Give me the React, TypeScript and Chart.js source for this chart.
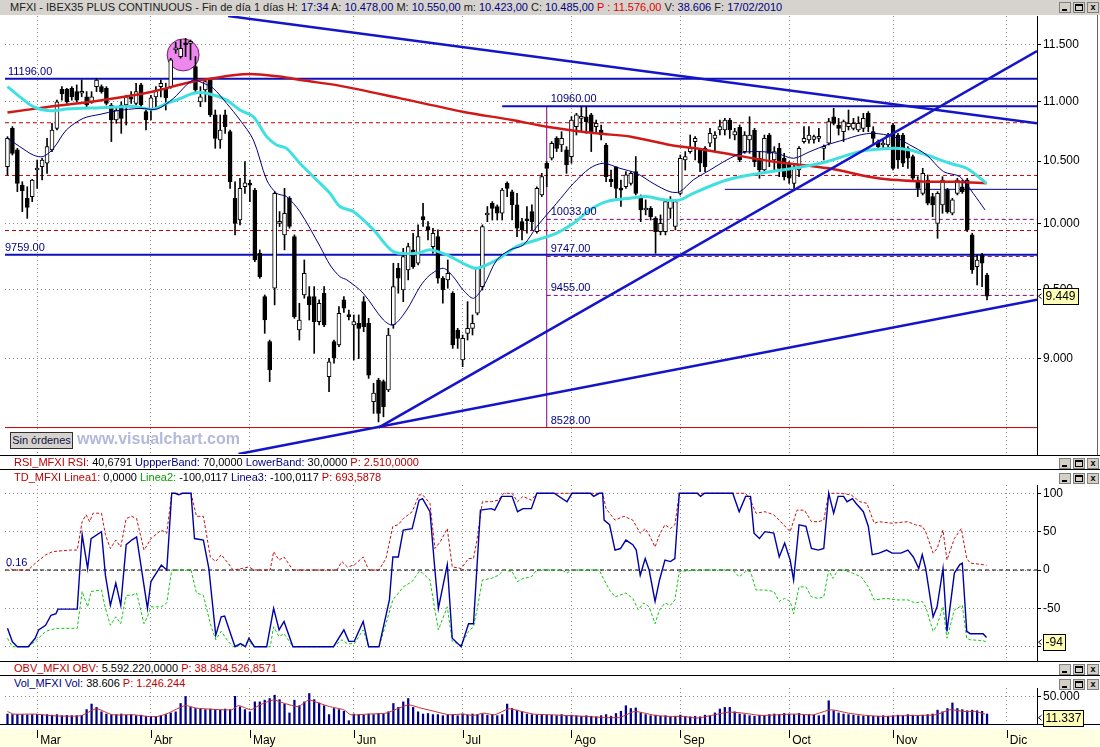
import React, { useEffect, useRef } from "react";
import { Chart, registerables } from "chart.js";

Chart.register(...registerables);

const FONT = "'Liberation Sans', Arial, Helvetica, sans-serif";
const NAVY = "#000080";
const RED = "#C00000";
const GREEN = "#00A000";
const BLACK = "#000000";

// ---------------- daily candles (index 0 = first session shown) ----------------
const OPEN = [
  10454,10772,10592,10305,10200,10213,10427,10454,10482,10592,
  10772,11105,11105,11114,11085,11071,11040,10997,11128,11128,
  11114,10970,10842,10970,10970,11031,10984,11143,10913,10936,
  11040,11128,11114,11128,11452,11392,11511,11511,11304,10997,
  11099,11186,10885,10675,10885,10744,10200,10028,10292,10319,
  10265,9771,9446,9120,9508,10002,9912,10200,9899,9203,
  9458,9446,9446,9263,9471,8874,9120,9096,9422,9312,
  9239,9251,9409,9251,8703,8851,8840,8782,9239,9657,
  9495,9644,9797,9695,10054,9977,9822,9899,9582,9570,
  9471,9203,8990,9179,9215,9324,9520,10067,10160,10134,
  10081,10319,10252,10147,10015,10033,10094,9938,10226,10482,
  10523,10688,10633,10592,10537,10786,10856,10870,10885,10786,
  10758,10633,10351,10454,10279,10292,10319,10414,10213,10107,
  10120,10041,9938,9938,10120,9977,10239,10509,10578,10661,
  10592,10605,10647,10688,10758,10758,10842,10716,10780,10578,
  10675,10758,10523,10427,10716,10509,10605,10523,10482,10319,
  10427,10661,10675,10680,10688,10605,10647,10870,10800,10744,
  10786,10772,10758,10772,10899,10744,10661,10633,10633,10800,
  10716,10716,10605,10537,10346,10239,10346,10213,10002,10147,
  10265,10081,10239,10292,10346,9912,9669,9758,9607,
];
const HIGH = [
  10702,10786,10605,10332,10292,10351,10509,10523,10688,10814,
  11011,11128,11114,11128,11143,11186,11085,11085,11201,11143,
  11128,10984,10941,10997,11054,11085,11158,11158,10927,11054,
  11128,11186,11158,11378,11519,11541,11556,11541,11392,11128,
  11186,11201,10927,10885,10927,10758,10332,10360,10495,10346,
  10279,9797,9458,9131,10252,10094,10279,10213,9912,9397,
  9720,9520,9520,9422,9520,9002,9131,9373,9446,9348,
  9312,9312,9446,9287,8828,8862,8851,9215,9695,9695,
  9809,9848,9925,9990,10160,10015,9964,9951,9594,9720,
  9483,9215,9167,9409,9312,9657,9990,10134,10173,10147,
  10279,10332,10265,10239,10041,10134,10147,10292,10400,10495,
  10661,10702,10744,10619,10870,10899,10956,10956,10899,10842,
  10800,10647,10427,10454,10346,10414,10414,10537,10226,10187,
  10134,10054,10068,10187,10213,10187,10550,10578,10716,10702,
  10605,10619,10772,10744,10842,10856,10856,10772,10800,10744,
  10870,10772,10578,10716,10730,10619,10647,10564,10495,10482,
  10619,10786,10786,10716,10772,10633,10856,10941,10856,10842,
  10927,10856,10870,10899,10913,10786,10675,10675,10730,10814,
  10730,10730,10619,10550,10373,10441,10387,10239,10252,10373,
  10279,10200,10360,10346,10360,9925,9758,9771,9619,
];
const LOW = [
  10387,10550,10252,10094,10041,10173,10279,10346,10400,10578,
  10758,11011,10984,11011,10997,11040,10950,10984,11085,11071,
  10970,10661,10814,10730,10800,10984,10970,10956,10758,10842,
  10941,11040,10927,11114,11422,11378,11392,11363,11085,10956,
  10997,10870,10605,10605,10730,10279,9912,9990,10239,10173,
  9707,9582,9179,8840,9385,9977,9797,9964,9287,9131,
  9434,9275,9037,9239,9227,8771,8967,9084,9330,9275,
  8990,9000,9191,8862,8623,8566,8600,8771,9215,9471,
  9409,9570,9657,9682,9977,9873,9771,9545,9397,9508,
  9072,9072,8943,9131,9167,9312,9495,10015,10028,10028,
  10028,10213,10028,9899,9873,9925,9951,9925,10213,10292,
  10509,10578,10578,10400,10482,10716,10744,10730,10578,10744,
  10675,10332,10292,10200,10134,10279,10305,10226,10015,10068,
  10028,9771,9912,9912,10041,9951,10226,10427,10564,10509,
  10414,10414,10619,10578,10716,10716,10688,10675,10495,10564,
  10564,10454,10360,10414,10454,10427,10373,10346,10319,10279,
  10373,10647,10647,10647,10661,10509,10633,10800,10716,10661,
  10758,10758,10744,10744,10744,10633,10605,10605,10619,10427,
  10441,10454,10441,10346,10213,10226,10147,10054,9886,10081,
  10081,10068,10226,10239,9938,9619,9532,9520,9422,
];
const CLOSE = [
  10688,10564,10319,10260,10128,10346,10441,10509,10619,10758,
  10997,11065,10997,11040,11011,11085,10970,11040,11186,11085,
  10984,10842,10927,10856,11040,11020,11085,10970,10842,11031,
  11099,11158,11031,11363,11467,11467,11497,11526,11099,11040,
  11172,10885,10688,10758,10786,10332,10002,10279,10324,10305,
  9720,9594,9275,8920,10239,10015,10081,9977,9299,9275,
  9619,9385,9263,9397,9239,8978,9002,9324,9361,9299,
  9263,9215,9227,8885,8760,8623,8668,9167,9520,9582,
  9746,9822,9669,9899,10028,9951,9925,9582,9495,9619,
  9096,9143,9143,9215,9251,9657,9977,10081,10120,10081,
  10265,10279,10147,9964,9951,10022,10015,10279,10373,10441,
  10647,10605,10688,10468,10842,10885,10870,10828,10744,10814,
  10716,10373,10332,10279,10265,10387,10400,10239,10107,10120,
  10054,9938,10002,10173,10187,10173,10523,10537,10605,10688,
  10482,10454,10730,10716,10786,10842,10758,10744,10509,10716,
  10716,10495,10427,10688,10564,10578,10441,10373,10360,10454,
  10605,10688,10716,10702,10702,10619,10828,10814,10772,10828,
  10814,10814,10814,10856,10786,10688,10619,10647,10716,10441,
  10509,10482,10523,10360,10279,10400,10160,10147,10239,10346,
  10094,10187,10346,10252,9951,9644,9720,9695,9449,
];
const VOLUME = [
  18000,17000,17500,17000,16500,17000,17500,16500,17000,16000,
  17000,15000,15500,15000,15000,15500,26000,36000,30000,22000,
  18000,17000,17000,18000,16000,17000,15000,16000,14000,14000,
  13000,15000,17000,20000,22000,37000,50000,30000,28000,27000,
  26000,27000,26000,25000,27000,26000,50000,31000,26000,22000,
  40000,40000,43000,46000,52000,44000,36000,20000,43000,33000,
  40000,55000,44000,38000,33000,17000,28000,26000,23000,6000,
  18000,17000,16000,18000,17000,19000,18000,22000,37000,30000,
  40000,46000,30000,22000,18000,19000,17000,17000,15000,16000,
  17000,15000,18000,16000,18000,17000,18000,16000,17000,15000,
  17000,36000,28000,25000,22000,18000,17000,16000,17000,16000,
  16000,15000,17000,14000,16000,15000,14000,15000,14000,13000,
  15000,17000,14000,19000,23000,33000,28000,29000,20000,17000,
  15000,16000,14000,15000,13000,14000,16000,14000,13000,14000,
  13000,16000,15000,20000,27000,30000,30000,22000,18000,17000,
  15000,14000,16000,15000,17000,18000,17000,19000,18000,17000,
  19000,16000,17000,16000,15000,16000,42000,24000,20000,18000,
  17000,16000,15000,14000,15000,14000,14000,15000,14000,15000,
  16000,15000,17000,16000,15000,16000,17000,18000,25000,22000,
  28000,38000,28000,26000,24000,25000,24000,23000,18000,
];

// ---------------- moving averages: [session index, value] ----------------
const MA_RED = [
  [0,10906],[7,10946],[19,11011],[29,11082],[36,11158],[40,11190],[46,11230],[50,11237],
  [55,11216],[60,11181],[67,11137],[79,11031],[92,10913],[102,10842],[109,10786],[119,10730],
  [126,10702],[134,10633],[139,10605],[145,10564],[155,10495],[166,10441],[176,10360],
  [186,10332],[192,10332],[197.9,10319],
];
const MA_CYAN = [
  [0,11128],[2.5,11040],[5.2,10956],[8.6,10920],[11.9,10935],[18.7,10946],[25.4,10956],
  [29.5,10935],[32.2,10984],[34.9,11025],[37.6,11071],[40.3,11071],[44.3,11011],[47,10927],
  [49.7,10870],[52.4,10702],[54.4,10633],[56.4,10605],[59.1,10482],[63.2,10319],[65.2,10239],
  [67.2,10134],[69.9,10094],[74,9951],[78,9784],[82.7,9771],[85.4,9797],[88.8,9758],
  [92.1,9695],[94.8,9657],[98.9,9720],[102.9,9822],[107,9873],[111,9925],[114.4,10002],
  [117.7,10107],[121.1,10173],[125.8,10200],[129.2,10213],[132.6,10187],[135.9,10187],
  [138.6,10239],[145.4,10346],[152.1,10400],[158.9,10441],[165.6,10495],[172.3,10578],
  [179.1,10605],[182.4,10592],[185.8,10550],[190.5,10482],[193.9,10441],[197.9,10319],
];
const MA_NAVY = [
  [0,10688],[2.5,10619],[5.2,10550],[7.2,10537],[9.3,10605],[11.9,10758],[15.3,10856],
  [18.7,10890],[22.1,10920],[26.8,10941],[30.2,10935],[33.5,11025],[36.2,11143],[37.6,11186],
  [39.6,11158],[41.6,11114],[44.3,10984],[47,10842],[49.7,10675],[52.4,10346],[54.4,10239],
  [56.4,10213],[59.1,10094],[63.2,9822],[65.2,9682],[67.2,9594],[68.6,9570],[71.9,9471],
  [76,9275],[78,9239],[80.7,9348],[83.4,9520],[85.4,9607],[88.1,9657],[90.1,9594],[92.1,9495],
  [94.2,9434],[96.2,9520],[98.9,9720],[101.6,9797],[104.3,9835],[107,9977],[111,10160],
  [114.4,10319],[117.7,10441],[120.4,10482],[123.8,10441],[127.2,10400],[130.5,10319],
  [133.9,10252],[135.9,10252],[138.6,10346],[142,10427],[145.4,10509],[148.7,10570],
  [152.1,10578],[155.5,10564],[158.9,10523],[162.2,10578],[165.6,10633],[169,10675],
  [172.3,10716],[175,10730],[179.1,10702],[182.4,10633],[185.8,10550],[189.2,10414],
  [192.5,10373],[195.2,10239],[197.6,10107],
];

// ---------------- drawn studies on the price panel ----------------
const TREND_DOWN = [[44.6, 11759], [208.1, 10814]];
const TREND_UP_STEEP = [[75, 8528], [208.1, 11441]];
const TREND_UP_SHALLOW = [[46.7, 8354], [208.1, 9423]];
const BLUE_LEVELS = [11196, 9759];
const TOP_LEVEL = { value: 10960, from: 100 };
const THIN_LEVEL = { value: 10271, from: 145 };
const LOW_LEVEL = 8528;
const RED_DASHED_LEVELS = [10819, 10383, 9946];
const MARK_X = 109;
const PURPLE_LEVELS = [10033, 9747, 9455];
const HIGHLIGHT = [35.5, 11407];
const LAST_PRICE = 9449;

// ---------------- TD oscillator: [session index, value] ----------------
const TD_BLUE = [
  [0,-76],[1,-93.5],[2,-100],[4.2,-100],[5.6,-89],[6.3,-78],[7.7,-72],[8.8,-59],[9.8,-57],
  [10.2,-51],[14.1,-51],[15.1,46],[16.2,2],[16.9,41],[19,50],[19.8,-7],[20.8,-46],[21.9,-17],
  [22.9,-46],[24,33],[25.1,39],[26.1,43],[28.3,-50],[29,-15],[31.1,6.5],[32.2,0],[33.2,100],
  [33.9,100],[34.6,98],[35.4,100],[37.1,100],[37.8,41],[39.6,39],[40.7,2],[42.1,-85],
  [43.2,-61],[43.9,-60],[45.3,-87],[46,-100],[47.1,-96],[48.1,-100],[48.8,-89],[49.9,-100],
  [52.4,-100],[53.8,-50],[54.9,-78],[55.9,-67],[57.7,-100],[65.9,-100],[68,-78],[69,-93],
  [70.1,-93],[71.9,-67],[73,-100],[75.1,-100],[77.2,-39],[77.9,17],[79,17],[80,52],[81.8,54],
  [83.2,91],[83.9,93],[85.4,76],[86.4,0],[87.1,-50],[88.9,7],[89.9,-89],[91.7,-100],
  [93.2,-70],[94.2,-70],[95.6,78],[97.8,80],[98.5,78],[99.9,96],[102,96],[103.1,76],
  [104.2,80],[105.9,80],[107,100],[110.5,100],[113.1,89],[114.1,100],[117.8,100],[118.5,96],
  [119.6,100],[120.3,100],[120.6,65],[121.7,59],[122.8,26],[123.9,28],[125,39],[126.4,33],
  [127.1,26],[127.9,-7],[128.9,15],[129.7,0],[130.9,-41],[131.8,-13],[132.9,13],[134,11],
  [134.9,15],[135.8,100],[139.4,100],[140.1,96],[140.9,100],[146.6,100],[147.9,76],
  [149.2,96],[150.2,96],[150.9,48],[152,41],[153.1,50],[154.9,48],[156,17],[157.1,35],
  [158.2,13],[158.9,-13],[160,59],[161.4,57],[162.5,28],[163.9,26],[165,28],[166,100],
  [167,74],[167.9,96],[169,96],[169.7,89],[170.8,93],[171.5,87],[173,76],[174,57],[174.8,20],
  [176.2,22],[177.7,26],[178.8,22],[180.6,22],[182,26],[183.1,17],[184.2,2],[184.9,20],
  [185.6,2],[187.1,-61],[187.9,-48],[189.1,2],[189.9,-80],[191.4,-4],[192.5,7],[193,9],
  [193.9,-80],[194.6,-83],[197.2,-83],[197.9,-88],
];
const TD_RED = [
  [0,6.5],[1,0],[4.2,0],[5.6,8.7],[7.7,19.6],[9.1,24],[12.7,26],[14.1,26],[15.1,63],[15.9,72],
  [16.6,63],[17.3,74],[19,74],[19.8,46],[20.8,28],[21.9,39],[22.9,30],[24,67],[25.1,70],
  [26.1,67],[27.6,26],[28.3,33],[29,41],[31.1,52],[32.2,48],[33.2,100],[37.1,100],[38.2,70],
  [39.6,70],[41,17],[42.1,11],[43.2,20],[44.6,9],[45.6,0],[47.4,2],[48.8,4],[49.9,0],[53.1,0],
  [53.8,24],[54.9,13],[55.9,17],[57.7,0],[66.6,0],[67.6,11],[68.7,4],[70.1,6.5],[71.9,17],
  [73,0],[75.1,0],[76.5,15],[77.9,57],[79,59],[80,67],[81.8,76],[83.2,98],[83.9,98],[85.4,87],
  [86.4,28],[87.5,37],[88.9,54],[89.9,4],[91.7,2],[93.2,15],[94.2,15],[94.9,39],[96,89],
  [97.8,89],[99.2,91],[100.3,100],[102,100],[103.1,89],[104.2,96],[105.9,91],[107,100],
  [120.3,100],[121,80],[122.8,65],[124.6,70],[126.4,65],[127.9,48],[128.9,54],[129.7,46],
  [130.9,30],[131.8,46],[132.9,59],[134,54],[134.9,59],[135.8,100],[149.2,100],[150.2,91],
  [151.3,74],[153.1,76],[154.9,72],[156,65],[158.2,50],[159.6,78],[161.1,78],[162.5,63],
  [163.9,63],[165,65],[166,100],[168.3,100],[170.5,98],[172.3,89],[173.7,87],[175.2,61],
  [176.2,63],[178.8,61],[182,63],[183.5,59],[184.9,57],[185.6,50],[187.1,22],[187.9,28],
  [189.1,52],[189.9,13],[191.4,41],[192.8,54],[193.9,15],[194.6,9],[197.2,7],[197.9,6],
];
const TD_GREEN = [
  [0,-89],[1,-100],[4.2,-100],[5.6,-93],[7.7,-80],[9.8,-76],[14.1,-76],[15.1,-28],[16.2,-48],
  [16.9,-28],[19,-26],[19.8,-50],[20.8,-72],[21.9,-61],[22.9,-70],[24,-33],[25.1,-33],
  [26.1,-30],[27.6,-70],[28.3,-61],[29,-48],[31.1,-48],[32.2,-43],[33.2,0],[37.1,0],
  [38.2,-30],[39.6,-33],[41,-70],[42.1,-91],[43.2,-80],[44.6,-93],[45.6,-100],[47.4,-98],
  [48.8,-93],[49.9,-100],[53.1,-100],[53.8,-74],[54.9,-87],[55.9,-83],[57.7,-100],[65.9,-100],
  [67.6,-91],[68.7,-96],[70.1,-96],[71.9,-78],[73,-100],[75.1,-100],[76.5,-70],[77.9,-39],
  [80,-22],[81.8,-15],[83.2,-2],[83.9,-4],[85.4,-13],[86.4,-52],[87.1,-78],[88.9,-48],
  [89.9,-93],[91.7,-98],[93.2,-80],[94.2,-74],[94.9,-52],[96,-13],[97.8,-11],[99.2,-7],
  [100.3,0],[102,-2],[103.1,-15],[104.2,-11],[105.9,-9],[107,0],[112,0],[113.1,-4],[114.1,0],
  [119.6,0],[120.6,-13],[121.7,-26],[122.8,-35],[125,-30],[126.4,-37],[127.5,-52],[128.6,-43],
  [129.7,-48],[130.9,-70],[131.8,-52],[132.9,-43],[134,-46],[134.9,-39],[135.8,-2],[139.4,0],
  [146.6,0],[147.9,-9],[149.2,-2],[150.2,-2],[151.3,-26],[153.1,-26],[154.9,-28],[156,-41],
  [157.1,-37],[158.2,-41],[158.9,-57],[160,-22],[161.4,-22],[162.5,-35],[163.9,-37],[165,-35],
  [166,0],[166.8,-11],[167.9,0],[169,0],[170.8,-4],[172.6,-9],[174,-22],[175.2,-39],
  [177.7,-37],[179.8,-39],[182,-39],[183.5,-43],[184.9,-41],[185.6,-48],[187.1,-80],
  [187.9,-72],[189.1,-48],[189.9,-89],[191.4,-52],[192.5,-48],[193,-46],[193.9,-89],
  [194.6,-91],[197.2,-92],[197.9,-94],
];
const TD_TICKS = [100, 50, 0, -50, -100];
const TD_LAST = -94;
const TD_LEFT_LABEL = "0.16";

// ---------------- volume average ----------------
const VOL_MA = [
  [0,22600],[1.3,17850],[5.6,17850],[9.1,14900],[14.8,14900],[18,27400],[21.2,16700],
  [25.4,16700],[28.3,13700],[30.4,13700],[32.5,19600],[35.9,33300],[38.2,28600],[45.3,25600],
  [46.7,33300],[49.2,25600],[51,34500],[53.8,43400],[55.9,37500],[58.8,31500],[60.9,43400],
  [63,37500],[65.1,31500],[68,25600],[69.4,16700],[72.9,17900],[76.5,19600],[78.6,26800],
  [81.1,34500],[83.6,28600],[86.4,22600],[89.3,16700],[92.1,17900],[94.2,15500],[96.3,19600],
  [98.5,16700],[101.3,27400],[103.4,23800],[106.3,17900],[109.7,16700],[116.8,13700],
  [120.3,11900],[123.8,11900],[126.7,22600],[128.8,19600],[130.9,15500],[133.8,13700],
  [136.6,13700],[139.4,10700],[142.3,15500],[145.8,21400],[148.7,19600],[152.2,15500],
  [155.8,16700],[159.3,17900],[162.9,16700],[166.4,25600],[170,19600],[173.5,15500],
  [177,13700],[180.6,14900],[184.1,15500],[187.7,16700],[190.5,25600],[193.3,22600],
  [195.5,22600],[197.6,17900],
];
const VOL_TICKS = [50000];
const VOL_TAG = 11337;

// ---------------- time axis ----------------
const MONTH_TICKS = [6, 29, 49, 70, 92, 114, 136, 158, 179, 202];
const MONTH_LABELS = ["Mar", "Abr", "May", "Jun", "Jul", "Ago", "Sep", "Oct", "Nov", "Dic"];
const PRICE_TICKS = [9000, 9500, 10000, 10500, 11000, 11500];
const X_MIN = -0.5;
const X_MAX = 208.1;
const PRICE_MIN = 8354;
const PRICE_MAX = 11759;

// ---------------- header texts ----------------
const TITLE_PARTS: [string, string][] = [
  ["MFXI - IBEX35 PLUS CONTINUOUS - Fin de día 1 días H: ", "#202020"],
  ["17:34", NAVY], [" A: ", "#202020"], ["10.478,00", NAVY], [" M: ", "#202020"],
  ["10.550,00", NAVY], [" m: ", "#202020"], ["10.423,00", NAVY], [" C: ", "#202020"],
  ["10.485,00", NAVY], [" P : 11.576,00", "#E00000"], [" V: ", "#202020"], ["38.606", NAVY],
  [" F: ", "#202020"], ["17/02/2010", NAVY],
];
const RSI_PARTS: [string, string][] = [
  ["RSI_MFXI RSI: ", RED], ["40,6791", BLACK], [" UppperBand: ", NAVY], ["70,0000", BLACK],
  [" LowerBand: ", NAVY], ["30,0000", BLACK], [" P: 2.510,0000", RED],
];
const TD_PARTS: [string, string][] = [
  ["TD_MFXI Linea1: ", RED], ["0,0000", BLACK], [" Linea2: ", GREEN], ["-100,0117", BLACK],
  [" Linea3: ", NAVY], ["-100,0117", BLACK], [" P: 693,5878", RED],
];
const OBV_PARTS: [string, string][] = [
  ["OBV_MFXI OBV: ", RED], ["5.592.220,0000", BLACK], [" P: 38.884.526,8571", RED],
];
const VOL_PARTS: [string, string][] = [
  ["Vol_MFXI Vol: ", NAVY], ["38.606", BLACK], [" P: 1.246.244", RED],
];

// ---------------- helpers ----------------
const pts = (arr: number[][]) => arr.map(([x, y]) => ({ x, y }));
const thousands = (v: number) => {
  const neg = v < 0;
  const s = Math.round(Math.abs(v)).toString().replace(/\B(?=(\d{3})+(?!\d))/g, ".");
  return (neg ? "-" : "") + s;
};

function xScale(showLabels: boolean) {
  return {
    type: "linear",
    min: X_MIN,
    max: X_MAX,
    offset: false,
    afterBuildTicks: (s: any) => {
      s.ticks = MONTH_TICKS.map((v) => ({ value: v }));
    },
    afterFit: (s: any) => {
      s.height = showLabels ? 23 : 0;
      s.paddingLeft = 0;
      s.paddingRight = 0;
      s.paddingTop = 0;
      s.paddingBottom = 0;
    },
    grid: { color: "#8c8c8c", lineWidth: 1, offset: false, drawTicks: false, borderDash: [1, 3] },
    border: { display: false, dash: [1, 3] },
    ticks: {
      display: showLabels,
      autoSkip: false,
      maxRotation: 0,
      minRotation: 0,
      align: "start",
      labelOffset: 3,
      padding: 9,
      color: "#000",
      font: { family: FONT, size: 12 },
      callback: (v: any) => {
        const i = MONTH_TICKS.indexOf(v);
        return i >= 0 ? MONTH_LABELS[i] : "";
      },
    },
  };
}

function yRight(extra: any, ticks: number[], label: (v: number) => string) {
  return {
    position: "right",
    ...extra,
    afterBuildTicks: (s: any) => {
      s.ticks = ticks.map((v) => ({ value: v }));
    },
    afterFit: (s: any) => {
      s.width = 63;
      s.paddingTop = 0;
      s.paddingBottom = 0;
    },
    grid: {
      color: "#8c8c8c",
      lineWidth: 1,
      drawTicks: true,
      tickLength: 4,
      tickColor: "#000",
      tickBorderDash: [],
      borderDash: [1, 3],
    },
    border: { display: true, color: "#000", width: 1, dash: [1, 3] },
    ticks: {
      color: "#000",
      padding: 2,
      font: { family: FONT, size: 12 },
      autoSkip: false,
      callback: (v: any) => label(Number(v)),
    },
  };
}

function drawTag(ctx: CanvasRenderingContext2D, x: number, yPx: number, text: string) {
  ctx.save();
  ctx.font = `12px ${FONT}`;
  const w = Math.ceil(ctx.measureText(text).width) + 4;
  const h = 16;
  const top = Math.round(yPx - h / 2);
  ctx.fillStyle = "#FFFFB8";
  ctx.fillRect(x, top, w, h);
  ctx.strokeStyle = "#000";
  ctx.lineWidth = 1;
  ctx.strokeRect(x + 0.5, top + 0.5, w, h);
  ctx.fillStyle = "#000";
  ctx.textBaseline = "middle";
  ctx.textAlign = "left";
  ctx.fillText(text, x + 2.5, top + h / 2 + 1);
  ctx.beginPath();
  ctx.moveTo(x - 1.5, yPx - 2.5);
  ctx.lineTo(x - 4.5, yPx);
  ctx.lineTo(x - 1.5, yPx + 2.5);
  ctx.stroke();
  ctx.restore();
}

const lineDs = (data: any[], color: string, width: number, order: number, extra: any = {}) => ({
  type: "line",
  data,
  borderColor: color,
  borderWidth: width,
  pointRadius: 0,
  fill: false,
  tension: 0,
  order,
  ...extra,
});

const WinButtons = ({ top }: { top: number }) => (
  <div style={{ position: "absolute", top, left: 1059, display: "flex", gap: 2 }}>
    <div style={{ width: 10, height: 9, position: "relative", background: "#d4d0c8", border: "1px solid #808080" }}>
      <div style={{ position: "absolute", left: 2, bottom: 1, width: 5, height: 2, background: "#000" }} />
    </div>
    <div style={{ width: 10, height: 9, position: "relative", background: "#d4d0c8", border: "1px solid #808080" }}>
      <div style={{ position: "absolute", left: 1, top: 1, width: 6, height: 4, border: "1px solid #000", borderTopWidth: 2 }} />
    </div>
    <div
      style={{
        width: 10, height: 9, background: "#d4d0c8", border: "1px solid #808080",
        fontSize: 9, lineHeight: "9px", textAlign: "center", fontWeight: "bold", fontFamily: FONT,
      }}
    >
      x
    </div>
  </div>
);

const Header = ({ parts, top, left = 14 }: { parts: [string, string][]; top: number; left?: number }) => (
  <div
    style={{
      position: "absolute", top, left, fontFamily: FONT, fontSize: 11, lineHeight: "13px",
      whiteSpace: "pre",
    }}
  >
    {parts.map(([t, c], i) => (
      <span key={i} style={{ color: c }}>
        {t}
      </span>
    ))}
  </div>
);

const HLine = ({ top }: { top: number }) => (
  <div style={{ position: "absolute", top, left: 0, width: 1100, height: 1, background: "#000" }} />
);

const baseOptions = (bottomPad: number) => ({
  responsive: false,
  animation: false,
  events: [],
  layout: { autoPadding: false, padding: { left: 5, right: 0, top: 0, bottom: bottomPad } },
  plugins: { legend: { display: false }, tooltip: { enabled: false } },
});

export default function App() {
  const mainRef = useRef<HTMLCanvasElement>(null);
  const tdRef = useRef<HTMLCanvasElement>(null);
  const volRef = useRef<HTMLCanvasElement>(null);

  useEffect(() => {
    const charts: Chart[] = [];

    // ---------------- price panel ----------------
    const wicks = OPEN.map((_, i) => ({ x: i, y: [LOW[i], HIGH[i]] }));
    const bodies = OPEN.map((o, i) => ({ x: i, y: [Math.min(o, CLOSE[i]), Math.max(o, CLOSE[i])] }));
    const bodyColors = OPEN.map((o, i) => (CLOSE[i] >= o ? "#ffffff" : "#000000"));

    const datasets: any[] = [];
    datasets.push({
      type: "line",
      data: [{ x: HIGHLIGHT[0], y: HIGHLIGHT[1] }],
      showLine: false,
      pointRadius: 16,
      pointBackgroundColor: "#EE88EE",
      pointBorderColor: "#6a206a",
      pointBorderWidth: 1,
      order: 100,
    });
    RED_DASHED_LEVELS.forEach((v) =>
      datasets.push(lineDs([{ x: X_MIN, y: v }, { x: X_MAX, y: v }], "#C00000", 1, 90, { borderDash: [4, 3] }))
    );
    PURPLE_LEVELS.forEach((v) =>
      datasets.push(lineDs([{ x: MARK_X, y: v }, { x: X_MAX, y: v }], "#800080", 1, 90, { borderDash: [4, 3] }))
    );
    datasets.push(lineDs([{ x: X_MIN, y: LOW_LEVEL }, { x: X_MAX, y: LOW_LEVEL }], "#C00000", 1, 90));
    datasets.push(lineDs([{ x: MARK_X, y: LOW_LEVEL }, { x: MARK_X, y: TOP_LEVEL.value }], "#800080", 1, 90));
    datasets.push(
      lineDs([{ x: THIN_LEVEL.from, y: THIN_LEVEL.value }, { x: X_MAX, y: THIN_LEVEL.value }], "#000080", 1, 88)
    );
    BLUE_LEVELS.forEach((v) =>
      datasets.push(lineDs([{ x: X_MIN, y: v }, { x: X_MAX, y: v }], "#1010B8", 2, 85))
    );
    datasets.push(
      lineDs([{ x: TOP_LEVEL.from, y: TOP_LEVEL.value }, { x: X_MAX, y: TOP_LEVEL.value }], "#1010B8", 2, 85)
    );
    datasets.push({
      type: "bar", data: wicks, backgroundColor: "#000", borderWidth: 0, barThickness: 1,
      grouped: false, order: 50,
    });
    datasets.push({
      type: "bar", data: bodies, backgroundColor: bodyColors, borderColor: "#000", borderWidth: 1,
      borderSkipped: false, barThickness: 4, minBarLength: 2, grouped: false, order: 49,
    });
    datasets.push(lineDs(pts(MA_RED), "#D01818", 2.5, 32, { tension: 0.3 }));
    datasets.push(lineDs(pts(MA_CYAN), "#40E0E0", 3, 31, { tension: 0.3 }));
    datasets.push(lineDs(pts(MA_NAVY), "#000080", 1, 30, { tension: 0.3 }));
    [TREND_DOWN, TREND_UP_STEEP, TREND_UP_SHALLOW].forEach((t) =>
      datasets.push(lineDs(pts(t), "#1414C8", 2.5, 20))
    );

    const levelTags = [
      { value: BLUE_LEVELS[0], at: "left", dx: 3 },
      { value: BLUE_LEVELS[1], at: "left", dx: 0 },
      { value: TOP_LEVEL.value, at: "mark", dx: 4 },
      ...PURPLE_LEVELS.map((v) => ({ value: v, at: "mark", dx: 4 })),
      { value: LOW_LEVEL, at: "mark", dx: 4 },
    ];

    const mainOverlay = {
      id: "mainOverlay",
      afterDatasetsDraw(chart: any) {
        const { ctx, chartArea: a, scales } = chart;
        ctx.save();
        ctx.font = `11px ${FONT}`;
        ctx.fillStyle = NAVY;
        ctx.textBaseline = "alphabetic";
        ctx.textAlign = "left";
        levelTags.forEach((t) => {
          const px = t.at === "left" ? a.left + t.dx : scales.x.getPixelForValue(MARK_X) + t.dx;
          ctx.fillText(t.value.toFixed(2), px, scales.y.getPixelForValue(t.value) - 4);
        });
        ctx.restore();
      },
      afterDraw(chart: any) {
        const { ctx, chartArea: a, scales } = chart;
        drawTag(ctx, a.right + 6, scales.y.getPixelForValue(LAST_PRICE), thousands(LAST_PRICE));
      },
    };

    charts.push(
      new Chart(mainRef.current as HTMLCanvasElement, {
        type: "bar",
        data: { datasets },
        options: {
          ...baseOptions(1),
          scales: {
            x: xScale(false) as any,
            y: yRight({ type: "logarithmic", min: PRICE_MIN, max: PRICE_MAX }, PRICE_TICKS, thousands) as any,
          },
        },
        plugins: [mainOverlay],
      } as any)
    );

    // ---------------- TD oscillator panel ----------------
    const tdOverlay = {
      id: "tdOverlay",
      afterDatasetsDraw(chart: any) {
        const { ctx, chartArea: a, scales } = chart;
        ctx.save();
        ctx.font = `11px ${FONT}`;
        ctx.fillStyle = NAVY;
        ctx.textAlign = "left";
        ctx.textBaseline = "alphabetic";
        ctx.fillText(TD_LEFT_LABEL, a.left + 1, scales.y.getPixelForValue(0) - 4);
        ctx.restore();
      },
      afterDraw(chart: any) {
        const { ctx, chartArea: a, scales } = chart;
        drawTag(ctx, a.right + 6, scales.y.getPixelForValue(TD_LAST), String(TD_LAST));
      },
    };
    charts.push(
      new Chart(tdRef.current as HTMLCanvasElement, {
        type: "line",
        data: {
          datasets: [
            lineDs(pts(TD_BLUE), "#0000A8", 1.4, 1),
            lineDs(pts(TD_RED), "#C81010", 1, 2, { borderDash: [3, 2] }),
            lineDs(pts(TD_GREEN), "#10C810", 1, 3, { borderDash: [3, 2] }),
            lineDs([{ x: X_MIN, y: 0 }, { x: X_MAX, y: 0 }], "#000", 1, 4, { borderDash: [4, 3] }),
          ],
        },
        options: {
          ...baseOptions(1),
          scales: {
            x: xScale(false) as any,
            y: yRight({ type: "linear", min: -117.3, max: 110.8 }, TD_TICKS, (v) =>
              v === -100 ? "" : String(v)
            ) as any,
          },
        },
        plugins: [tdOverlay],
      } as any)
    );

    // ---------------- volume panel + time axis ----------------
    const volOverlay = {
      id: "volOverlay",
      beforeDraw(chart: any) {
        const { ctx, chartArea: a, width, height } = chart;
        ctx.save();
        ctx.fillStyle = "#FFFFE1";
        ctx.fillRect(0, a.bottom + 5, width, height - a.bottom - 5);
        ctx.restore();
      },
      afterDraw(chart: any) {
        const { ctx, chartArea: a, scales, width } = chart;
        ctx.save();
        ctx.strokeStyle = "#000";
        ctx.lineWidth = 1;
        ctx.beginPath();
        ctx.moveTo(0, a.bottom + 0.5);
        ctx.lineTo(width, a.bottom + 0.5);
        MONTH_TICKS.forEach((v) => {
          const px = Math.round(scales.x.getPixelForValue(v)) + 0.5;
          ctx.moveTo(px, a.bottom + 6);
          ctx.lineTo(px, a.bottom + 14);
        });
        ctx.stroke();
        ctx.restore();
        drawTag(ctx, a.right + 6, scales.y.getPixelForValue(VOL_TAG), thousands(VOL_TAG));
      },
    };
    charts.push(
      new Chart(volRef.current as HTMLCanvasElement, {
        type: "bar",
        data: {
          datasets: [
            {
              type: "bar",
              data: VOLUME.map((v, i) => ({ x: i, y: v })),
              backgroundColor: "#00008B",
              barThickness: 1.6,
              grouped: false,
              order: 2,
            },
            lineDs(pts(VOL_MA), "#C83030", 1, 1, { tension: 0.2 }),
          ],
        },
        options: {
          ...baseOptions(0),
          scales: {
            x: xScale(true) as any,
            y: yRight({ type: "linear", min: 0, max: 65000 }, VOL_TICKS, thousands) as any,
          },
        },
        plugins: [volOverlay],
      } as any)
    );

    return () => charts.forEach((c) => c.destroy());
  }, []);

  return (
    <div
      style={{
        position: "fixed", top: 0, left: 0, width: 1100, height: 747, background: "#fff",
        overflow: "hidden", fontFamily: FONT,
      }}
    >
      {/* title bar */}
      <div style={{ position: "absolute", top: 0, left: 0, width: 1100, height: 15, background: "#D6D3CE" }} />
      <Header parts={TITLE_PARTS} top={1} left={10} />
      <WinButtons top={2} />

      {/* price panel */}
      <canvas
        ref={mainRef}
        width={1100}
        height={439}
        style={{ position: "absolute", left: 0, top: 16, width: 1100, height: 439 }}
      />
      <div style={{ position: "absolute", left: 1097, top: 15, width: 1, height: 440, background: "#606060" }} />
      <div
        style={{
          position: "absolute", left: 10, top: 432, width: 61, height: 15, background: "#D6D3CE",
          border: "1px solid #303030", fontSize: 11, lineHeight: "15px", textAlign: "center", color: "#101040",
        }}
      >
        Sin órdenes
      </div>
      <div
        style={{
          position: "absolute", left: 77, top: 430, fontSize: 16, fontWeight: "bold", color: "#B4B8DA",
          lineHeight: "18px",
        }}
      >
        www.visualchart.com
      </div>
      <HLine top={455} />

      {/* RSI (collapsed) */}
      <Header parts={RSI_PARTS} top={456} />
      <WinButtons top={458} />
      <HLine top={469} />

      {/* TD oscillator */}
      <Header parts={TD_PARTS} top={471} />
      <WinButtons top={473} />
      <canvas
        ref={tdRef}
        width={1100}
        height={176}
        style={{ position: "absolute", left: 0, top: 485, width: 1100, height: 176 }}
      />
      <HLine top={661} />

      {/* OBV (collapsed) */}
      <Header parts={OBV_PARTS} top={662} />
      <WinButtons top={664} />
      <HLine top={675} />

      {/* Volume */}
      <Header parts={VOL_PARTS} top={677} />
      <WinButtons top={679} />
      <canvas
        ref={volRef}
        width={1100}
        height={59}
        style={{ position: "absolute", left: 0, top: 688, width: 1100, height: 59 }}
      />
    </div>
  );
}
